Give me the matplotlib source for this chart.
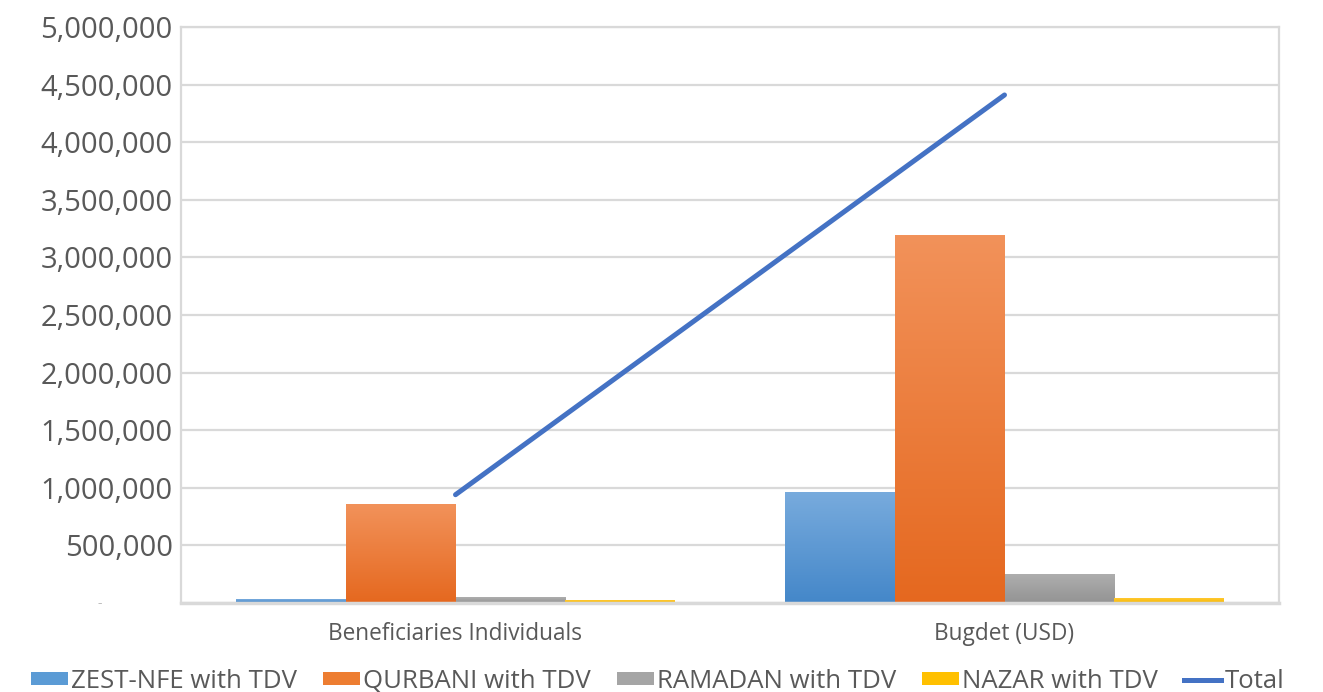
import matplotlib
matplotlib.use("Agg")
import matplotlib.pyplot as plt
import numpy as np
from matplotlib.colors import LinearSegmentedColormap
from matplotlib.ticker import FuncFormatter, MultipleLocator
from matplotlib.patches import Patch
from matplotlib.lines import Line2D

categories = ["Beneficiaries Individuals", "Bugdet (USD)"]
series_names = ["ZEST-NFE with TDV", "QURBANI with TDV", "RAMADAN with TDV", "NAZAR with TDV"]
zest = [30000, 961000]
qurbani = [857000, 3190000]
ramadan = [49000, 249000]
nazar = [24000, 40000]
total = [940000, 4410000]

series_values = [zest, qurbani, ramadan, nazar]
top_colors = ["#78ABDD", "#F2925A", "#AEAEAE", "#FFC832"]
bot_colors = ["#4487C9", "#E5681F", "#939393", "#F7B800"]
flat_colors = ["#5B9BD5", "#ED7D31", "#A5A5A5", "#FFC000"]
line_color = "#4472C4"
text_color = "#595959"
grid_color = "#D9D9D9"

plt.rcParams['font.family'] = ['Open Sans', 'DejaVu Sans']

fig = plt.figure(figsize=(13.23, 6.92), dpi=100)
ax = fig.add_axes([181/1323, 1-603/692, (1279-181)/1323, (603-27)/692])

x = np.arange(len(categories))
n = len(series_values)
bw = 0.8 / n
for i, vals in enumerate(series_values):
    offs = (i - (n - 1) / 2) * bw
    bars = ax.bar(x + offs, vals, width=bw, color=flat_colors[i], zorder=2)
    cmap = LinearSegmentedColormap.from_list("g%d" % i, [bot_colors[i], top_colors[i]])
    for b in bars:
        x0, w, h = b.get_x(), b.get_width(), b.get_height()
        grad = np.linspace(0, 1, 256).reshape(-1, 1)
        ax.imshow(grad, extent=(x0, x0 + w, 0, h), origin='lower', cmap=cmap,
                  aspect='auto', zorder=2.5, interpolation='bilinear')

ax.plot(x, total, color=line_color, lw=3.6, zorder=4, solid_capstyle='round')

ax.set_xlim(-0.5, 1.5)
ax.set_ylim(0, 5000000)
ax.yaxis.set_major_locator(MultipleLocator(500000))
ax.yaxis.set_major_formatter(FuncFormatter(lambda v, p: "" if v == 0 else f"{int(v):,}"))
ax.set_xticks(x)
ax.set_xticklabels(categories)
ax.tick_params(axis='y', length=0, pad=6, labelsize=21, labelcolor=text_color)
ax.tick_params(axis='x', length=0, pad=14, labelsize=16.3, labelcolor=text_color)
ax.grid(axis='y', color=grid_color, lw=1.6, zorder=0)
ax.set_axisbelow(True)
for s in ax.spines.values():
    s.set_color(grid_color)
    s.set_linewidth(1.6)
ax.spines['bottom'].set_linewidth(2.5)
ax.text(-0.074, 0, "-", transform=ax.transAxes, ha='center', va='center',
        fontsize=10, color="#BFBFBF")

handles = [Patch(facecolor=c) for c in flat_colors] + [Line2D([0], [0], color=line_color, lw=3.6)]
labels = series_names + ["Total"]
leg = fig.legend(handles, labels, loc='lower center', bbox_to_anchor=(0.497, -0.036), ncol=5,
                 frameon=False, fontsize=18.5, labelcolor=text_color,
                 handlelength=1.45, handleheight=0.4, handletextpad=0.12,
                 columnspacing=1.0)

fig.savefig("out.png", dpi=100)
